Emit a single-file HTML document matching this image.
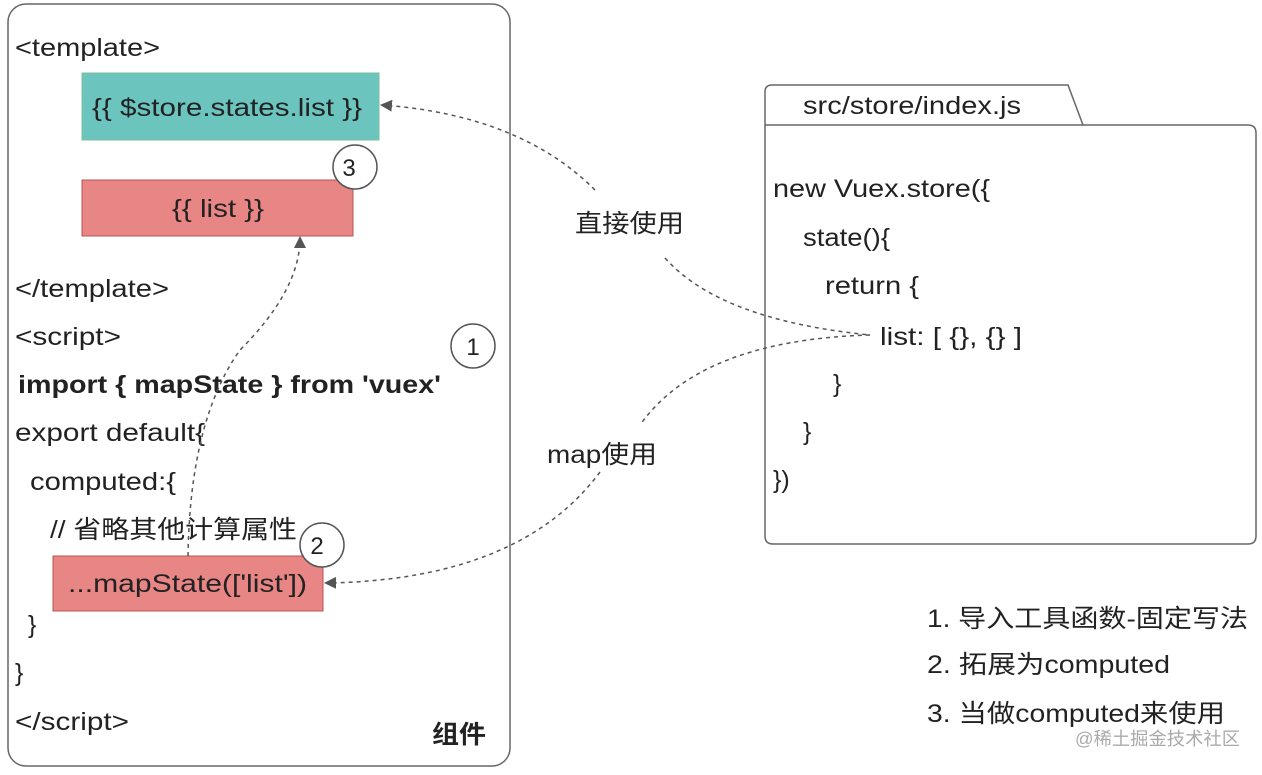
<!DOCTYPE html>
<html><head><meta charset="utf-8"><style>
body{margin:0;background:#fff;}
svg text{font-family:"Liberation Sans","Noto Sans CJK SC",sans-serif;fill:#222;}
</style></head><body>
<svg width="1262" height="770" viewBox="0 0 1262 770" xmlns="http://www.w3.org/2000/svg">
<defs><marker id="a" markerWidth="12" markerHeight="12" refX="10" refY="6" orient="auto" markerUnits="userSpaceOnUse"><path d="M0,0 L12,6 L0,12 z" fill="#555"/></marker></defs>
<rect x="8" y="4" width="502" height="762" rx="18" fill="#fff" stroke="#666" stroke-width="1.5"/>
<rect x="82" y="73" width="297" height="67" fill="#6cc4bf" stroke="#7bbf9a"/>
<rect x="82" y="180" width="271" height="56" fill="#e88585" stroke="#b85450"/>
<rect x="53" y="556" width="270" height="55" fill="#e88585" stroke="#b85450"/>
<circle cx="355" cy="167" r="22" fill="#fff" stroke="#555" stroke-width="1.5"/>
<circle cx="473" cy="346" r="22" fill="#fff" stroke="#555" stroke-width="1.5"/>
<circle cx="322" cy="545" r="22" fill="#fff" stroke="#555" stroke-width="1.5"/>
<g font-size="25">
<text x="349" y="176" font-size="24" text-anchor="middle">3</text>
<text x="473" y="355" font-size="24" text-anchor="middle">1</text>
<text x="317" y="554" font-size="24" text-anchor="middle">2</text>
<text x="15" y="56" textLength="145" lengthAdjust="spacingAndGlyphs">&lt;template&gt;</text>
<text x="92" y="116" textLength="270" lengthAdjust="spacingAndGlyphs">{{ $store.states.list }}</text>
<text x="172" y="217" textLength="92" lengthAdjust="spacingAndGlyphs">{{ list }}</text>
<text x="15" y="297" textLength="154" lengthAdjust="spacingAndGlyphs">&lt;/template&gt;</text>
<text x="15" y="345" textLength="106" lengthAdjust="spacingAndGlyphs">&lt;script&gt;</text>
<text x="18" y="393" font-weight="bold" textLength="423" lengthAdjust="spacingAndGlyphs">import { mapState } from 'vuex'</text>
<text x="15" y="441" textLength="190" lengthAdjust="spacingAndGlyphs">export default{</text>
<text x="30" y="490" textLength="146" lengthAdjust="spacingAndGlyphs">computed:{</text>
<text x="50" y="538" textLength="247" lengthAdjust="spacingAndGlyphs">// 省略其他计算属性</text>
<text x="68" y="592" textLength="239" lengthAdjust="spacingAndGlyphs">...mapState(['list'])</text>
<text x="28" y="633">}</text>
<text x="15" y="681">}</text>
<text x="15" y="730" textLength="114" lengthAdjust="spacingAndGlyphs">&lt;/script&gt;</text>
<text x="432" y="743" font-weight="bold" textLength="54" lengthAdjust="spacingAndGlyphs">组件</text>
</g>
<path d="M765,125 L765,92 Q765,85 772,85 L1068,85 L1083,125 L1248,125 Q1256,125 1256,133 L1256,536 Q1256,544 1248,544 L773,544 Q765,544 765,536 Z" fill="#fff" stroke="#666" stroke-width="1.5"/>
<line x1="765" y1="125" x2="1083" y2="125" stroke="#666" stroke-width="1.5"/>
<g font-size="25">
<text x="803" y="114" textLength="218" lengthAdjust="spacingAndGlyphs">src/store/index.js</text>
<text x="773" y="197" textLength="217" lengthAdjust="spacingAndGlyphs">new Vuex.store({</text>
<text x="803" y="246" textLength="87" lengthAdjust="spacingAndGlyphs">state(){</text>
<text x="825" y="294" textLength="94" lengthAdjust="spacingAndGlyphs">return {</text>
<text x="880" y="345" textLength="142" lengthAdjust="spacingAndGlyphs">list: [ {}, {} ]</text>
<text x="833" y="392">}</text>
<text x="803" y="440">}</text>
<text x="773" y="488">})</text>
<text x="575" y="232" textLength="109" lengthAdjust="spacingAndGlyphs">直接使用</text>
<text x="547" y="463" textLength="110" lengthAdjust="spacingAndGlyphs">map使用</text>
<text x="927" y="627" textLength="321" lengthAdjust="spacingAndGlyphs">1. 导入工具函数-固定写法</text>
<text x="927" y="673" textLength="243" lengthAdjust="spacingAndGlyphs">2. 拓展为computed</text>
<text x="927" y="722" textLength="298" lengthAdjust="spacingAndGlyphs">3. 当做computed来使用</text>
</g>
<text x="1075" y="745" font-size="18" textLength="165" lengthAdjust="spacingAndGlyphs" style="fill:#aaa">@稀土掘金技术社区</text>
<g fill="none" stroke="#555" stroke-width="1.5" stroke-dasharray="4,4">
<path d="M595,190 Q520,115 382,105" marker-end="url(#a)"/>
<path d="M665,258 Q720,320 870,335"/>
<path d="M870,335 Q700,340 640,425"/>
<path d="M600,472 Q520,580 326,583" marker-end="url(#a)"/>
<path d="M188,556 Q190,420 240,350 Q300,290 300,238" marker-end="url(#a)"/>
</g>
</svg>
</body></html>
